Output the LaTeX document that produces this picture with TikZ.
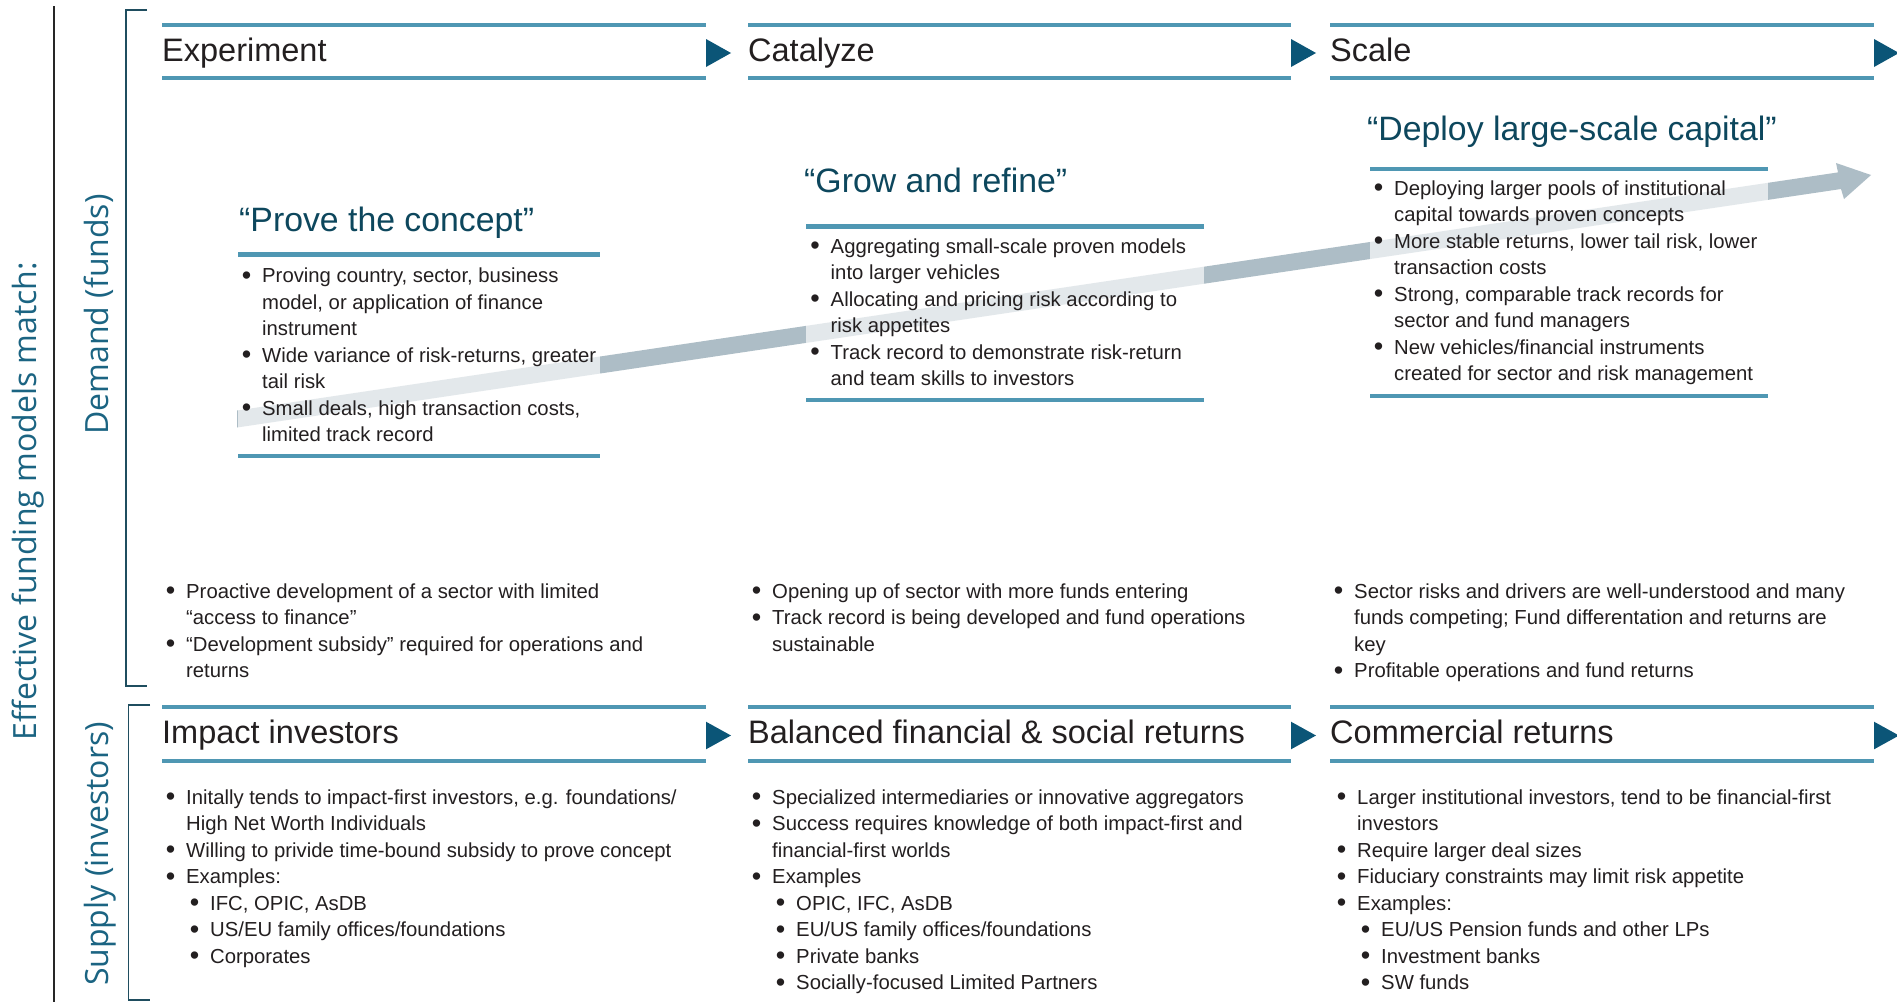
\documentclass[tikz,border=0pt]{standalone}
\usepackage{fontspec}
\setmainfont{Liberation Sans}
\newfontfamily\labelfont{Open Sans}
\definecolor{band}{HTML}{4F97B3}
\definecolor{tri}{HTML}{0B5577}
\definecolor{quotec}{HTML}{0D475D}
\definecolor{brk}{HTML}{1F4D5F}
\definecolor{lab}{HTML}{1B6482}
\definecolor{txt}{HTML}{231F20}
\definecolor{arrowc}{HTML}{ADBDC6}
\newcommand\mydot{\raisebox{-1.6pt}{\fontsize{27}{27}\selectfont\textbullet}}
\newcommand\myb{\strut\llap{\mydot\hspace{11pt}}}
\newcommand\myc{\strut}
\newcommand\mys{\strut\hspace*{24pt}\llap{\mydot\hspace{11pt}}}
\tikzset{
  body/.style={anchor=north west, inner sep=0pt, align=left, text=txt,
    font=\fontsize{20.3}{26.5}\selectfont},
  hdr/.style={anchor=base west, inner sep=0pt, text=txt,
    font=\fontsize{32.5}{39}\selectfont},
  qt/.style={anchor=base west, inner sep=0pt, text=quotec,
    font=\fontsize{33.8}{40}\selectfont},
  lbl/.style={rotate=90, anchor=base, inner sep=0pt, text=lab,
    font=\labelfont\fontsize{32}{38}\selectfont},
  bandline/.style={draw=band, line width=4pt},
  boxline/.style={draw=band, line width=4.5pt},
  tritip/.style={fill=tri},
  bracket/.style={draw=brk, line width=1.5pt},
}
\begin{document}
\begin{tikzpicture}[x=1pt, y=-1pt]
\useasboundingbox (0,0) rectangle (1897,1002);
\fill[white] (0,0) rectangle (1897,1002);

% outer line and brackets
\draw[black!85, line width=1.3pt] (54,6) -- (54,1002);
\draw[bracket] (147,10) -- (126,10) -- (126,686) -- (147,686);
\draw[bracket] (150,705) -- (128.7,705) -- (128.7,1000) -- (150,1000);

% side labels
\node[lbl] (lEff) at (36,501) {Effective funding models match:};
\node[lbl] (lDem) at (108.5,314.5) {Demand (funds)};
\node[lbl] (lSup) at (108.5,854) {Supply (investors)};

% header bands
\foreach \xa/\xb in {162/706, 748/1291, 1330/1874}{
  \draw[bandline] (\xa,24.7) -- (\xb,24.7);
  \draw[bandline] (\xa,78) -- (\xb,78);
  \fill[tritip] (\xb,39) -- (\xb+25,53) -- (\xb,67) -- cycle;
  \draw[bandline] (\xa,706.7) -- (\xb,706.7);
  \draw[bandline] (\xa,760.5) -- (\xb,760.5);
  \fill[tritip] (\xb,721.7) -- (\xb+25,735.5) -- (\xb,749.3) -- cycle;
}
\node[hdr] (hExp) at (162,61.7) {Experiment};
\node[hdr] (hCat) at (748,61.7) {Catalyze};
\node[hdr] (hSca) at (1330,61.7) {Scale};
\node[hdr] (hImp) at (162,743.3) {Impact investors};
\node[hdr] (hBal) at (748,743.3) {Balanced financial \& social returns};
\node[hdr] (hCom) at (1330,743.3) {Commercial returns};

% big arrow
\fill[arrowc] (237,410.5) -- (1838,172.4) -- (1836,163) -- (1871,175)
  -- (1844,199) -- (1841,189) -- (237,427.5) -- cycle;
% lightening boxes
\fill[white, fill opacity=0.66] (238,256) rectangle (600,454);
\fill[white, fill opacity=0.66] (806,228) rectangle (1204,398);
\fill[white, fill opacity=0.66] (1370,171) rectangle (1768,394);

% box lines
\draw[boxline] (238,254.5) -- (600,254.5);
\draw[boxline] (238,456) -- (600,456);
\draw[boxline] (806,226.5) -- (1204,226.5);
\draw[boxline] (806,400) -- (1204,400);
\draw[boxline] (1370,169) -- (1768,169);
\draw[boxline] (1370,396) -- (1768,396);

% quote headings
\node[qt] (q1) at (239,231) {“Prove the concept”};
\node[qt] (q2) at (804,192) {“Grow and refine”};
\node[qt] (q3) at (1367,140) {“Deploy large-scale capital”};

% box texts
\node[body] (b1) at (262,264) {%
\myb Proving country, sector, business\\
\myc model, or application of finance\\
\myc instrument\\
\myb Wide variance of risk-returns, greater\\
\myc tail risk\\
\myb Small deals, high transaction costs,\\
\myc limited track record};
\node[body] (b2) at (830.5,234.5) {%
\myb Aggregating small-scale proven models\\
\myc into larger vehicles\\
\myb Allocating and pricing risk according to\\
\myc risk appetites\\
\myb Track record to demonstrate risk-return\\
\myc and team skills to investors};
\node[body] (b3) at (1394,176.5) {%
\myb Deploying larger pools of institutional\\
\myc capital towards proven concepts\\
\myb More stable returns, lower tail risk, lower\\
\myc transaction costs\\
\myb Strong, comparable track records for\\
\myc sector and fund managers\\
\myb New vehicles/financial instruments\\
\myc created for sector and risk management};

% demand descriptions
\node[body] (m1) at (186,579.5) {%
\myb Proactive development of a sector with limited\\
\myc “access to finance”\\
\myb “Development subsidy” required for operations and\\
\myc returns};
\node[body] (m2) at (772,579.5) {%
\myb Opening up of sector with more funds entering\\
\myb Track record is being developed and fund operations\\
\myc sustainable};
\node[body] (m3) at (1354,579.5) {%
\myb Sector risks and drivers are well-understood and many\\
\myc funds competing; Fund differentation and returns are\\
\myc key\\
\myb Profitable operations and fund returns};

% supply texts
\node[body] (s1) at (186,785.5) {%
\myb Initally tends to impact-first investors, e.g. foundations/\\
\myc High Net Worth Individuals\\
\myb Willing to privide time-bound subsidy to prove concept\\
\myb Examples:\\
\mys IFC, OPIC, AsDB\\
\mys US/EU family offices/foundations\\
\mys Corporates};
\node[body] (s2) at (772,785.5) {%
\myb Specialized intermediaries or innovative aggregators\\
\myb Success requires knowledge of both impact-first and\\
\myc financial-first worlds\\
\myb Examples\\
\mys OPIC, IFC, AsDB\\
\mys EU/US family offices/foundations\\
\mys Private banks\\
\mys Socially-focused Limited Partners};
\node[body] (s3) at (1357,785.5) {%
\myb Larger institutional investors, tend to be financial-first\\
\myc investors\\
\myb Require larger deal sizes\\
\myb Fiduciary constraints may limit risk appetite\\
\myb Examples:\\
\mys EU/US Pension funds and other LPs\\
\mys Investment banks\\
\mys SW funds};
\end{tikzpicture}
\end{document}
